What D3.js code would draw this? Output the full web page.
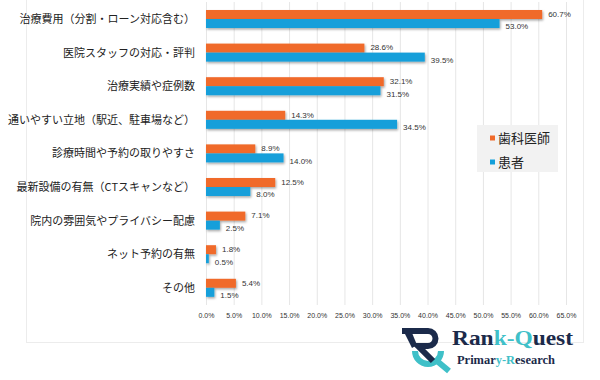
<!DOCTYPE html>
<html><head><meta charset="utf-8">
<script src="https://cdn.jsdelivr.net/npm/d3@7/dist/d3.min.js"></script>
<style>body{margin:0;background:#fff}svg{display:block}</style>
</head><body>
<script>
const categories = ["治療費用（分割・ローン対応含む）","医院スタッフの対応・評判","治療実績や症例数","通いやすい立地（駅近、駐車場など）","診療時間や予約の取りやすさ","最新設備の有無（CTスキャンなど）","院内の雰囲気やプライバシー配慮","ネット予約の有無","その他"];
const seriesNames = ["歯科医師","患者"];
const dentists = [60.7,28.6,32.1,14.3,8.9,12.5,7.1,1.8,5.4];
const patients = [53.0,39.5,31.5,34.5,14.0,8.0,2.5,0.5,1.5];
const tickValues = [0,5,10,15,20,25,30,35,40,45,50,55,60,65];
const colors = ["#F06A2A","#139FDA"];

const W=600,H=380;
const svg=d3.select("body").append("svg").attr("width",W).attr("height",H);
const defs=svg.append("defs");
const f=defs.append("filter").attr("id","sh").attr("x","-10%").attr("y","-30%").attr("width","130%").attr("height","200%");
f.append("feDropShadow").attr("dx",1).attr("dy",1.5).attr("stdDeviation",0.9).attr("flood-color","#000").attr("flood-opacity",0.35);

// frame
svg.append("rect").attr("x",26.5).attr("y",-1).attr("width",557).attr("height",343.5).attr("fill","none").attr("stroke","#ececec");

const x=d3.scaleLinear().domain([0,65]).range([206,566]);
const y=d3.scaleBand().domain(categories).range([2.2,304.6]).paddingInner(0.464).paddingOuter(0.232);
const bh=y.bandwidth()/2;

// gridlines
svg.append("g").attr("transform","translate(0,305)")
  .call(d3.axisBottom(x).tickValues(tickValues).tickSize(-303).tickFormat(""))
  .call(g=>g.select(".domain").remove())
  .call(g=>g.selectAll("line").attr("stroke","#e6e6e6"));

// tick labels
svg.append("g").attr("transform","translate(0,310)")
  .call(d3.axisBottom(x).tickValues(tickValues).tickSize(0).tickFormat(d=>d.toFixed(1)+"%"))
  .call(g=>g.select(".domain").remove())
  .call(g=>g.selectAll("text").attr("font-family","Liberation Sans, Arial, sans-serif").attr("font-size","7px").attr("fill","#333"));

// category labels
svg.append("g").selectAll("text").data(categories).join("text")
  .attr("x",195).attr("y",d=>y(d)+y.bandwidth()/2).attr("dy","0.36em")
  .attr("text-anchor","end").attr("font-family","Noto Sans CJK JP, sans-serif").attr("font-size","11px").attr("fill","#222")
  .text(d=>d);

const data=[dentists,patients];
data.forEach((vals,si)=>{
  svg.append("g").attr("filter","url(#sh)").selectAll("rect").data(vals).join("rect")
    .attr("x",x(0)).attr("y",(d,i)=>y(categories[i])+si*bh)
    .attr("width",d=>x(d)-x(0)).attr("height",bh).attr("fill",colors[si]);
  svg.append("g").selectAll("text").data(vals).join("text")
    .attr("x",d=>x(d)+6).attr("y",(d,i)=>y(categories[i])+si*bh+bh/2+(si?3:-0.5)).attr("dy","0.36em")
    .attr("font-family","Liberation Sans, Arial, sans-serif").attr("font-size","8px").attr("fill","#333")
    .text(d=>d.toFixed(1)+"%");
});

// legend
const lg=svg.append("g");
lg.append("rect").attr("x",477).attr("y",125).attr("width",81).attr("height",47).attr("fill","#f2f2f2");
seriesNames.forEach((n,i)=>{
  const cy=138+i*24;
  lg.append("rect").attr("x",490).attr("y",cy-2.5).attr("width",5).attr("height",5).attr("fill",colors[i]);
  lg.append("text").attr("x",498).attr("y",cy).attr("dy","0.36em").attr("font-family","Noto Sans CJK JP, sans-serif").attr("font-size","13px").attr("fill","#222").text(n);
});

// logo
const navy="#1b2a4a", teal="#3fc0c8";
const lo=svg.append("g");
lo.append("path").attr("d","M415,351 A13,13 0 1 0 441,351").attr("fill","none").attr("stroke",teal).attr("stroke-width",6);
lo.append("path").attr("d","M437,361 L449,371").attr("stroke",teal).attr("stroke-width",6);
lo.append("path").attr("d","M402,331 L428,331 A7.5,7.5 0 0 1 428,346 L418,346 L433,361").attr("fill","none").attr("stroke",navy).attr("stroke-width",6).attr("stroke-linejoin","miter");
lo.append("path").attr("d","M402,328 L410,328 L417,345 L412,348 Z").attr("fill",navy);
const t1=lo.append("text").attr("x",452).attr("y",345).attr("font-family","Liberation Serif, DejaVu Serif, serif").attr("font-weight","bold").attr("font-size","20px").attr("textLength",121).attr("lengthAdjust","spacingAndGlyphs");
t1.append("tspan").attr("fill",navy).text("Ran");
t1.append("tspan").attr("fill",teal).text("k-Q");
t1.append("tspan").attr("fill",navy).text("uest");
const t2=lo.append("text").attr("x",457).attr("y",364).attr("font-family","Liberation Serif, DejaVu Serif, serif").attr("font-weight","bold").attr("font-size","12.5px").attr("textLength",98).attr("lengthAdjust","spacingAndGlyphs");
t2.append("tspan").attr("fill",navy).text("Primar");
t2.append("tspan").attr("fill",teal).text("y-R");
t2.append("tspan").attr("fill",navy).text("esearch");
</script>
</body></html>
